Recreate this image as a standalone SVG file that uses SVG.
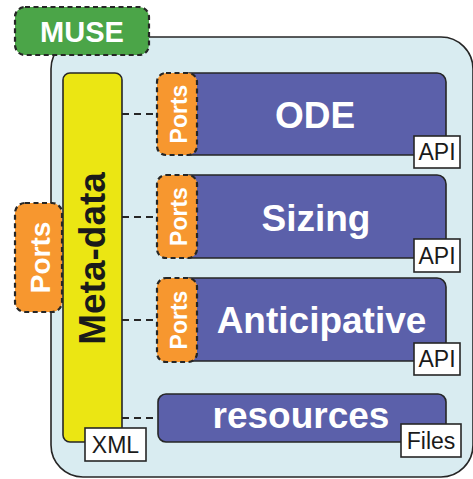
<svg xmlns="http://www.w3.org/2000/svg" width="473" height="479" viewBox="0 0 473 479">
<style>
.solid{stroke:#262626;stroke-width:1.6}
.dash{stroke:#262626;stroke-width:2.2;stroke-dasharray:5 3.5}
.mod{fill:#5b60aa}
.port{fill:#f7972f}
.bt{font-family:"Liberation Sans",Arial,sans-serif;font-weight:bold;fill:#fff;text-anchor:middle}
.lbl{fill:#fff;stroke:#262626;stroke-width:1.6}
.lt{font-family:"Liberation Sans",Arial,sans-serif;font-size:23px;fill:#1a1a1a;text-anchor:middle}
.conn{stroke:#262626;stroke-width:1.8;stroke-dasharray:7 5;fill:none}
</style>
<g id="container">
<rect x="51" y="37" width="422" height="440" rx="32" fill="#d9ecf1" class="solid"/>
</g>
<g id="connectors">
<line x1="122" y1="114" x2="157" y2="114" class="conn"/>
<line x1="122" y1="217" x2="157" y2="217" class="conn"/>
<line x1="122" y1="320" x2="157" y2="320" class="conn"/>
<line x1="122" y1="418" x2="158" y2="418" class="conn"/>
</g>
<g id="muse">
<rect x="15" y="7" width="134" height="48" rx="10" fill="#4ba548" class="dash"/>
<text x="82" y="42" class="bt" font-size="29">MUSE</text>
</g>
<g id="ports-left">
<rect x="15" y="203" width="47" height="109" rx="10" class="port dash"/>
<text transform="translate(50,257.5) rotate(-90)" class="bt" font-size="28">Ports</text>
</g>
<g id="metadata">
<rect x="63" y="73" width="59" height="369" rx="7" fill="#ebe613" class="solid"/>
<text transform="translate(105,258.5) rotate(-90)" font-family="Liberation Sans,Arial,sans-serif" font-weight="bold" font-size="37" fill="#1a1a1a" text-anchor="middle">Meta-data</text>
<rect x="85" y="428" width="61" height="33" class="lbl"/>
<text x="115.5" y="453" class="lt">XML</text>
</g>
<g id="ode">
<rect x="180" y="73" width="266" height="82" rx="9" class="mod solid"/>
<rect x="157" y="73" width="40" height="82" rx="9" class="port dash"/>
<text transform="translate(187,114) rotate(-90)" class="bt" font-size="23">Ports</text>
<text x="315" y="128" class="bt" font-size="37">ODE</text>
<rect x="414" y="136" width="46" height="32" class="lbl"/>
<text x="437" y="160" class="lt">API</text>
</g>
<g id="sizing">
<rect x="180" y="175" width="266" height="83" rx="9" class="mod solid"/>
<rect x="157" y="175" width="40" height="83" rx="9" class="port dash"/>
<text transform="translate(187,216.5) rotate(-90)" class="bt" font-size="23">Ports</text>
<text x="316" y="231" class="bt" font-size="37">Sizing</text>
<rect x="414" y="239" width="46" height="33" class="lbl"/>
<text x="437" y="263.5" class="lt">API</text>
</g>
<g id="anticipative">
<rect x="180" y="278" width="266" height="83" rx="9" class="mod solid"/>
<rect x="157" y="278" width="40" height="84" rx="9" class="port dash"/>
<text transform="translate(187,320) rotate(-90)" class="bt" font-size="23">Ports</text>
<text x="321.5" y="333" class="bt" font-size="37">Anticipative</text>
<rect x="414" y="343" width="46" height="32" class="lbl"/>
<text x="437" y="367" class="lt">API</text>
</g>
<g id="resources">
<rect x="158" y="394" width="288" height="48" rx="8" class="mod solid"/>
<text x="301" y="428" class="bt" font-size="37">resources</text>
<rect x="401" y="424" width="60" height="33" class="lbl"/>
<text x="431" y="449" class="lt">Files</text>
</g>
</svg>
